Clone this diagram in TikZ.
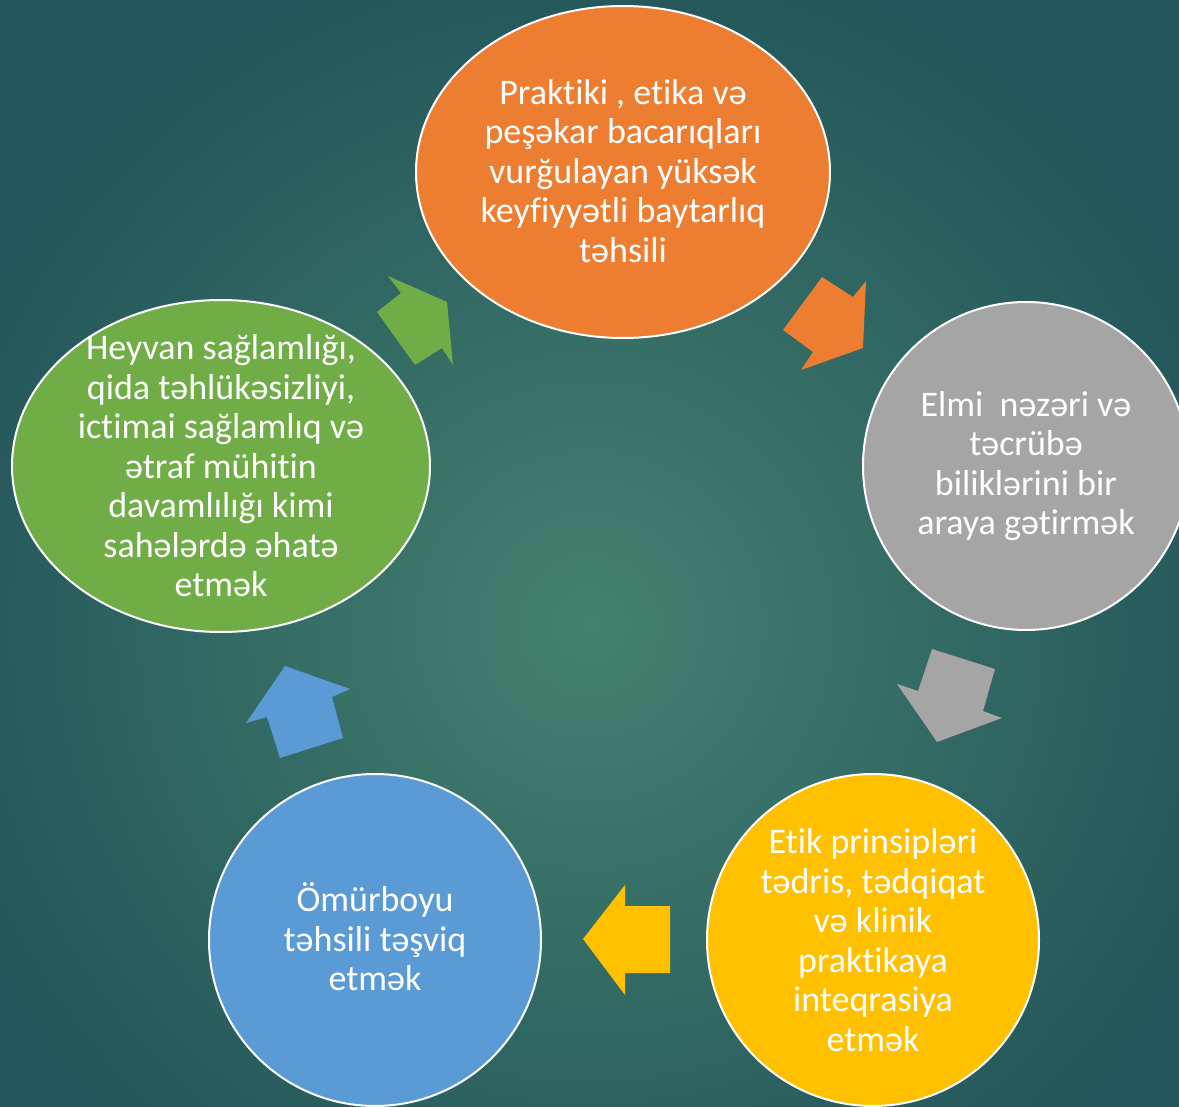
\documentclass[tikz,border=0pt]{standalone}
\usepackage{fontspec}
\setmainfont[Ligatures=NoCommon]{Carlito}
\usetikzlibrary{shapes.geometric}
\definecolor{bgin}{HTML}{44816F}
\definecolor{bgout}{HTML}{23555A}
\definecolor{orangeC}{HTML}{ED7D31}
\definecolor{grayC}{HTML}{A5A5A5}
\definecolor{yellowC}{HTML}{FFC000}
\definecolor{blueC}{HTML}{5B9BD5}
\definecolor{greenC}{HTML}{70AD47}

\begin{document}
\begin{tikzpicture}[x=1pt,y=-1pt,
    blob/.style={ellipse,draw=white,line width=2pt,inner sep=0pt},
    txt/.style={text=white,align=center,inner sep=0pt,font=\fontsize{36}{39.5}\selectfont}]
                        \useasboundingbox (0,0) rectangle (1179,1107);
                        \clip (0,0) rectangle (1179,1107);
                        \shade[inner color=bgin,outer color=bgout] (-90,-60) rectangle (1270,1310);
                        % the five steps
                        \node[blob,fill=orangeC,minimum width=414pt,minimum height=332pt] (prak) at (623,172) {};
                        \node[blob,fill=grayC,minimum width=326pt,minimum height=328pt] (elmi) at (1026,466) {};
                        \node[blob,fill=yellowC,minimum width=332pt,minimum height=332pt] (etik) at (873,940) {};
                        \node[blob,fill=blueC,minimum width=332pt,minimum height=332pt] (omur) at (375,940) {};
                        \node[blob,fill=greenC,minimum width=418pt,minimum height=332pt] (heyv) at (221,466) {};
                        \node[txt] at ([yshift=1pt]prak) {Praktiki , etika və\\peşəkar bacarıqları\\vurğulayan yüksək\\keyfiyyətli baytarlıq\\təhsili};
                        \node[txt] at (elmi) {Elmi\ \ nəzəri və\\təcrübə\\biliklərini bir\\araya gətirmək};
                        \node[txt] at (etik) {Etik prinsipləri\\tədris, tədqiqat\\və klinik\\praktikaya\\inteqrasiya\\etmək};
                        \node[txt] at ([yshift=3pt]omur) {Ömürboyu\\təhsili təşviq\\etmək};
                        \node[txt] at (heyv) {Heyvan sağlamlığı,\\qida təhlükəsizliyi,\\ictimai sağlamlıq və\\ətraf mühitin\\davamlılığı kimi\\sahələrdə əhatə\\etmək};
                        % block arrows between them
                        \fill[orangeC] (822,277) -- (853,297) -- (866,281) -- (863,348) -- (801,370) -- (813,352) -- (783,330) -- cycle;
                        \fill[grayC] (932,649) -- (995,669) -- (983,711) -- (1002,718) -- (937,742) -- (897,684) -- (918,691) -- cycle;
                        \fill[yellowC] (670,906) -- (625,906) -- (625,885) -- (583,939) -- (625,995) -- (625,973) -- (670,973) -- cycle;
                        \fill[blueC] (343,738) -- (332,697) -- (350,689) -- (285,666) -- (246,723) -- (267,717) -- (280,758) -- cycle;
                        \fill[greenC] (377,312) -- (401,293) -- (388,276) -- (447,302) -- (453,365) -- (442,348) -- (415,365) -- cycle;
                  \end{tikzpicture}
\end{document}
